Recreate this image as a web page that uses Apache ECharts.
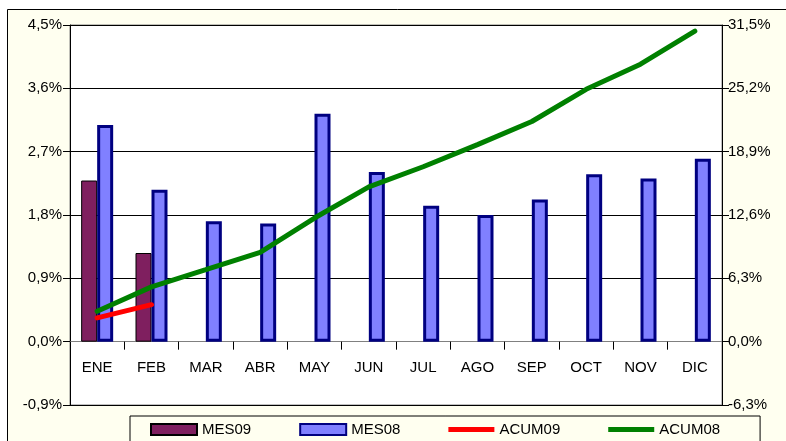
<!DOCTYPE html>
<html>
<head>
<meta charset="utf-8">
<script src="https://cdn.jsdelivr.net/npm/echarts@6/dist/echarts.min.js"></script>
<style>html,body{margin:0;padding:0;background:#fff}#c{width:786px;height:441px}</style>
</head>
<body>
<div id="c"></div>
<script>
var categories = ['ENE','FEB','MAR','ABR','MAY','JUN','JUL','AGO','SEP','OCT','NOV','DIC'];
var mes09 = [2.29, 1.26, null, null, null, null, null, null, null, null, null, null];
var mes08 = [3.08, 2.16, 1.71, 1.68, 3.24, 2.41, 1.93, 1.80, 2.02, 2.38, 2.32, 2.60];
var acum09 = [2.36, 3.68, null, null, null, null, null, null, null, null, null, null];
var acum08 = [3.02, 5.45, 7.16, 8.88, 12.3, 15.4, 17.4, 19.6, 21.9, 25.1, 27.6, 30.9];
var leftTicks = {min: -0.9, max: 4.5, interval: 0.9};
var rightTicks = {min: -6.3, max: 31.5, interval: 6.3};

function fmt(v){ return (Math.round(v*10)/10).toFixed(1).replace('.', ',') + '%'; }

var chart = echarts.init(document.getElementById('c'), null, {renderer: 'canvas'});
var font = 'Liberation Sans, Arial, sans-serif';
var lineIcon = 'path://M0,0 L46,0 L46,5 L0,5 Z';
chart.setOption({
  backgroundColor: '#fff',
  animation: false,
  textStyle: {fontFamily: font},
  graphic: [{
    type: 'rect', z: -10, silent: true,
    shape: {x: 7.5, y: 9.5, width: 800, height: 500},
    style: {fill: '#FFFFF0', stroke: '#000', lineWidth: 1}
  }],
  grid: {left: 70, right: 64, top: 25, bottom: 36, show: true, backgroundColor: '#fff', borderColor: '#808080', borderWidth: 1},
  legend: {
    left: 130, top: 416,
    padding: [6, 40, 20, 20],
    backgroundColor: '#FFFFF0', borderColor: '#000', borderWidth: 1,
    itemWidth: 46, itemHeight: 11, itemGap: 48,
    textStyle: {fontSize: 15, color: '#000', fontFamily: font},
    data: [
      {name: 'MES09', icon: 'rect'},
      {name: 'MES08', icon: 'rect'},
      {name: 'ACUM09', icon: lineIcon},
      {name: 'ACUM08', icon: lineIcon}
    ]
  },
  xAxis: [{
    type: 'category', data: categories,
    axisLine: {onZero: true, lineStyle: {color: '#808080', width: 1}},
    axisTick: {show: true, length: 8, lineStyle: {color: '#000'}},
    axisLabel: {show: false},
    splitLine: {show: false}
  }, {
    type: 'category', data: categories, position: 'bottom',
    axisLine: {show: false, onZero: false},
    axisTick: {show: false},
    axisLabel: {show: true, inside: true, interval: 0, fontSize: 15, color: '#000', margin: 30, fontFamily: font},
    splitLine: {show: false}
  }],
  yAxis: [{
    type: 'value', min: leftTicks.min, max: leftTicks.max, interval: leftTicks.interval,
    axisLine: {show: true, lineStyle: {color: '#000'}},
    axisTick: {show: true, length: 7, lineStyle: {color: '#000'}},
    axisLabel: {fontSize: 15, color: '#000', margin: 8, formatter: fmt, fontFamily: font},
    splitLine: {show: true, lineStyle: {color: '#000', width: 1}}
  }, {
    type: 'value', min: rightTicks.min, max: rightTicks.max, interval: rightTicks.interval,
    position: 'right',
    axisLine: {show: true, lineStyle: {color: '#000'}},
    axisTick: {show: true, length: 7, lineStyle: {color: '#000'}},
    axisLabel: {fontSize: 15, color: '#000', margin: 6, formatter: fmt, fontFamily: font},
    splitLine: {show: false}
  }],
  series: [{
    name: 'MES09', type: 'bar', yAxisIndex: 0, data: mes09,
    barWidth: 16, barGap: '0%',
    itemStyle: {color: '#7F1F5F', borderColor: '#000', borderWidth: 1}
  }, {
    name: 'MES08', type: 'bar', yAxisIndex: 0, data: mes08,
    barWidth: 16, barGap: '0%',
    itemStyle: {color: '#8080FF', borderColor: '#000080', borderWidth: 3}
  }, {
    name: 'ACUM09', type: 'line', yAxisIndex: 1, data: acum09,
    symbol: 'none', z: 5,
    itemStyle: {color: '#FF0000'},
    lineStyle: {color: '#FF0000', width: 5, cap: 'round'}
  }, {
    name: 'ACUM08', type: 'line', yAxisIndex: 1, data: acum08,
    symbol: 'none', z: 4,
    itemStyle: {color: '#008000'},
    lineStyle: {color: '#008000', width: 5, cap: 'round'}
  }]
});
</script>
</body>
</html>
